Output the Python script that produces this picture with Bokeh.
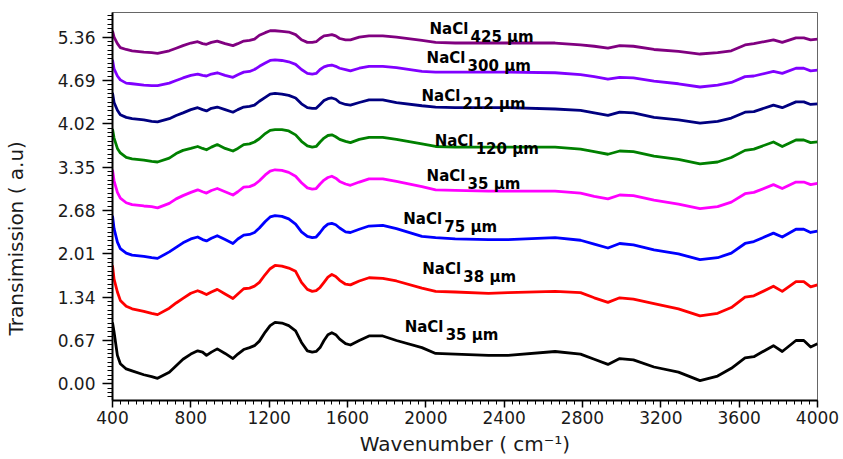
from bokeh.plotting import figure
from bokeh.models import FixedTicker, PrintfTickFormatter, Range1d, ColumnDataSource
from bokeh.core.properties import value
from bokeh.embed import file_html
from bokeh.resources import INLINE

# ---------------- data ----------------
WAVENUMBER = [400, 408, 425, 440, 470, 500, 560, 600, 630, 690,
              725, 760, 800, 835, 860, 880, 905, 935, 975, 1015,
              1040, 1070, 1100, 1125, 1150, 1180, 1205, 1230, 1265, 1300,
              1335, 1365, 1395, 1420, 1440, 1460, 1480, 1500, 1520, 1540,
              1560, 1590, 1615, 1660, 1710, 1780, 1850,
              1980, 2050, 2150, 2320, 2420, 2660, 2790, 2860, 2930, 2990,
              3060, 3165, 3290, 3400, 3490, 3560, 3630, 3675, 3775, 3820,
              3890, 3930, 3965, 4000]

NACL_35_LOW = [0.95, 0.80, 0.44, 0.31, 0.23, 0.20, 0.14, 0.11, 0.085, 0.18,
               0.28, 0.38, 0.46, 0.51, 0.49, 0.44, 0.49, 0.54, 0.47, 0.39,
               0.46, 0.53, 0.56, 0.59, 0.66, 0.80, 0.90, 0.95, 0.94, 0.90,
               0.82, 0.64, 0.51, 0.49, 0.50, 0.56, 0.67, 0.76, 0.79, 0.76,
               0.69, 0.62, 0.60, 0.67, 0.74, 0.74, 0.67,
               0.56, 0.47, 0.46, 0.44, 0.44, 0.50, 0.46, 0.38, 0.30, 0.39,
               0.37, 0.26, 0.18, 0.05, 0.12, 0.24, 0.40, 0.42, 0.59, 0.50,
               0.67, 0.67, 0.57, 0.62]

NACL_38 = [1.83, 1.62, 1.42, 1.29, 1.20, 1.16, 1.12, 1.09, 1.07, 1.17,
           1.25, 1.32, 1.40, 1.44, 1.41, 1.38, 1.42, 1.46, 1.39, 1.32,
           1.39, 1.47, 1.48, 1.51, 1.57, 1.69, 1.78, 1.83, 1.82, 1.79,
           1.74, 1.57, 1.46, 1.43, 1.44, 1.49, 1.57, 1.65, 1.69, 1.66,
           1.60, 1.54, 1.53, 1.59, 1.64, 1.63, 1.59,
           1.48, 1.43, 1.42, 1.40, 1.41, 1.43, 1.41, 1.33, 1.26, 1.33,
           1.31, 1.24, 1.16, 1.05, 1.09, 1.18, 1.34, 1.36, 1.51, 1.43,
           1.58, 1.58, 1.50, 1.53]

NACL_75 = [2.60, 2.40, 2.19, 2.09, 2.02, 1.99, 1.97, 1.95, 1.94, 2.04,
           2.11, 2.18, 2.24, 2.27, 2.23, 2.21, 2.25, 2.29, 2.23, 2.17,
           2.24, 2.30, 2.31, 2.34, 2.41, 2.51, 2.58, 2.60, 2.59, 2.55,
           2.47, 2.35, 2.28, 2.26, 2.27, 2.34, 2.42, 2.47, 2.48, 2.46,
           2.41, 2.35, 2.34, 2.39, 2.44, 2.45, 2.40,
           2.28, 2.26, 2.24, 2.23, 2.23, 2.26, 2.22, 2.16, 2.10, 2.17,
           2.15, 2.07, 2.01, 1.92, 1.95, 2.02, 2.17, 2.20, 2.33, 2.27,
           2.39, 2.39, 2.34, 2.36]

NACL_35_UP = [3.31, 3.14, 2.96, 2.87, 2.80, 2.77, 2.75, 2.74, 2.72, 2.79,
              2.86, 2.91, 2.96, 3.00, 2.97, 2.95, 2.99, 3.02, 2.97, 2.92,
              2.97, 3.04, 3.05, 3.08, 3.14, 3.23, 3.29, 3.31, 3.30, 3.27,
              3.21, 3.11, 3.03, 3.01, 3.02, 3.09, 3.15, 3.19, 3.21, 3.18,
              3.13, 3.09, 3.07, 3.12, 3.17, 3.17, 3.13,
              3.05, 3.00, 2.99, 2.98, 2.98, 2.98, 2.95, 2.90, 2.86, 2.92,
              2.91, 2.84, 2.78, 2.71, 2.74, 2.81, 2.94, 2.96, 3.08, 3.02,
              3.12, 3.12, 3.08, 3.10]

NACL_120 = [3.94, 3.80, 3.64, 3.57, 3.50, 3.48, 3.46, 3.44, 3.43, 3.49,
            3.56, 3.61, 3.64, 3.67, 3.64, 3.62, 3.66, 3.70, 3.64, 3.60,
            3.64, 3.70, 3.71, 3.74, 3.79, 3.87, 3.92, 3.93, 3.93, 3.91,
            3.85, 3.75, 3.68, 3.66, 3.67, 3.74, 3.80, 3.84, 3.85, 3.82,
            3.78, 3.75, 3.73, 3.78, 3.81, 3.81, 3.78,
            3.71, 3.67, 3.66, 3.66, 3.66, 3.66, 3.63, 3.59, 3.55, 3.60,
            3.59, 3.52, 3.47, 3.40, 3.43, 3.50, 3.61, 3.63, 3.74, 3.67,
            3.77, 3.77, 3.73, 3.74]

NACL_212 = [4.50, 4.35, 4.23, 4.16, 4.12, 4.10, 4.08, 4.06, 4.05, 4.10,
            4.15, 4.19, 4.24, 4.27, 4.24, 4.22, 4.26, 4.28, 4.24, 4.20,
            4.24, 4.28, 4.29, 4.31, 4.37, 4.43, 4.48, 4.49, 4.48, 4.46,
            4.42, 4.33, 4.27, 4.26, 4.26, 4.32, 4.38, 4.41, 4.42, 4.40,
            4.35, 4.32, 4.31, 4.35, 4.39, 4.39, 4.35,
            4.30, 4.28, 4.27, 4.27, 4.27, 4.25, 4.23, 4.19, 4.15, 4.20,
            4.19, 4.12, 4.08, 4.03, 4.06, 4.11, 4.20, 4.21, 4.31, 4.27,
            4.36, 4.36, 4.32, 4.33]

NACL_300 = [5.01, 4.87, 4.76, 4.70, 4.65, 4.64, 4.62, 4.61, 4.61, 4.65,
            4.69, 4.73, 4.77, 4.79, 4.77, 4.76, 4.79, 4.81, 4.77, 4.74,
            4.78, 4.82, 4.83, 4.86, 4.91, 4.96, 5.00, 5.01, 5.00, 4.98,
            4.94, 4.86, 4.80, 4.79, 4.80, 4.86, 4.90, 4.92, 4.93, 4.91,
            4.88, 4.86, 4.84, 4.88, 4.91, 4.91, 4.89,
            4.83, 4.82, 4.82, 4.82, 4.82, 4.81, 4.78, 4.75, 4.71, 4.74,
            4.73, 4.68, 4.64, 4.59, 4.62, 4.66, 4.75, 4.76, 4.83, 4.80,
            4.88, 4.88, 4.84, 4.85]

NACL_425 = [5.46, 5.36, 5.26, 5.20, 5.17, 5.15, 5.13, 5.12, 5.11, 5.15,
            5.19, 5.23, 5.27, 5.29, 5.26, 5.25, 5.28, 5.30, 5.26, 5.23,
            5.26, 5.30, 5.31, 5.33, 5.39, 5.43, 5.46, 5.46, 5.45, 5.44,
            5.40, 5.32, 5.28, 5.28, 5.29, 5.34, 5.38, 5.39, 5.40, 5.38,
            5.34, 5.32, 5.32, 5.36, 5.38, 5.38, 5.36,
            5.31, 5.28, 5.27, 5.27, 5.27, 5.27, 5.24, 5.22, 5.19, 5.23,
            5.22, 5.17, 5.14, 5.10, 5.12, 5.15, 5.24, 5.26, 5.32, 5.28,
            5.35, 5.35, 5.32, 5.33]

SIZES = ["35 \u00b5m", "38 \u00b5m", "75 \u00b5m", "35 \u00b5m", "120 \u00b5m", "212 \u00b5m", "300 \u00b5m", "425 \u00b5m"]
COLORS = ["#000000", "#FF0000", "#0000FF", "#FF00FF", "#008000", "#000080", "#8000FF", "#800080"]
SERIES = [NACL_35_LOW, NACL_38, NACL_75, NACL_35_UP, NACL_120, NACL_212, NACL_300, NACL_425]

# label anchor (left edge / baseline of "NaCl") in data coordinates
LABEL_X = [1892, 1982, 1885, 2004, 2045, 1978, 2004, 2019]
LABEL_Y = [0.875, 1.778, 2.551, 3.221, 3.762, 4.458, 5.035, 5.49]

X_TICKS = [400, 800, 1200, 1600, 2000, 2400, 2800, 3200, 3600, 4000]
Y_TICKS = [0.00, 0.67, 1.34, 2.01, 2.68, 3.35, 4.02, 4.69, 5.36]

X_TITLE = "Wavenumber ( cm\u207b\u00b9)"
Y_TITLE = "Transimission ( a.u)"

# ---------------- figure ----------------
FONT = "DejaVu Sans"
p = figure(width=843, height=459, output_backend="svg", toolbar_location=None,
           x_range=Range1d(400, 4000), y_range=Range1d(-0.258, 5.742),
           min_border_left=110, min_border_right=26, min_border_top=12, min_border_bottom=59)
p.xgrid.visible = False
p.ygrid.visible = False
p.outline_line_color = "#666666"
p.outline_line_width = 1
p.background_fill_color = "white"
p.border_fill_color = "white"

for ys, col in zip(SERIES, COLORS):
    n = min(len(WAVENUMBER), len(ys))
    p.line(WAVENUMBER[:n], ys[:n], line_color=col, line_width=2.8, line_join="round")

src = ColumnDataSource(dict(x=LABEL_X, y=LABEL_Y, main=["NaCl"] * len(SIZES), sub=SIZES))
p.text(x="x", y="y", text="main", source=src, text_font=value(FONT), text_font_style="bold",
       text_font_size="15px", text_color="#000000", text_baseline="alphabetic", text_align="left")
p.text(x="x", y="y", text="sub", source=src, text_font=value(FONT), text_font_style="bold",
       text_font_size="15px", text_color="#000000", text_baseline="alphabetic", text_align="left",
       x_offset=41, y_offset=8)

# axes
minor_x = [400 + 40 * i for i in range(91)]
minor_y = [round(-0.268 + 0.067 * i, 3) for i in range(91)]
p.xaxis.ticker = FixedTicker(ticks=X_TICKS, minor_ticks=minor_x)
p.yaxis.ticker = FixedTicker(ticks=Y_TICKS, minor_ticks=minor_y)
p.yaxis.formatter = PrintfTickFormatter(format="%.2f")

for ax in (p.xaxis[0], p.yaxis[0]):
    ax.axis_line_color = "#000000"
    ax.axis_line_width = 2
    ax.major_tick_line_color = "#000000"
    ax.minor_tick_line_color = "#000000"
    ax.major_tick_line_width = 1.5
    ax.minor_tick_line_width = 1
    ax.major_tick_in = 0
    ax.minor_tick_in = 0
    ax.major_label_text_font = FONT
    ax.major_label_text_font_size = "17px"
    ax.major_label_text_color = "#1a1a1a"
    ax.axis_label_text_font = FONT
    ax.axis_label_text_font_size = "20px"
    ax.axis_label_text_font_style = "normal"
    ax.axis_label_text_color = "#1a1a1a"

p.xaxis.major_tick_out = 7
p.xaxis.minor_tick_out = 4
p.xaxis.major_label_standoff = 3
p.xaxis.axis_label = X_TITLE
p.xaxis.axis_label_standoff = 5

p.yaxis.major_tick_out = 10
p.yaxis.minor_tick_out = 5
p.yaxis.major_label_standoff = 7
# trailing no-break spaces move the visible title slightly below centre, as in the reference
p.yaxis.axis_label = Y_TITLE + "\u00a0" * 10
p.yaxis.axis_label_standoff = 27

open("out.html", "w").write(file_html(p, INLINE))
